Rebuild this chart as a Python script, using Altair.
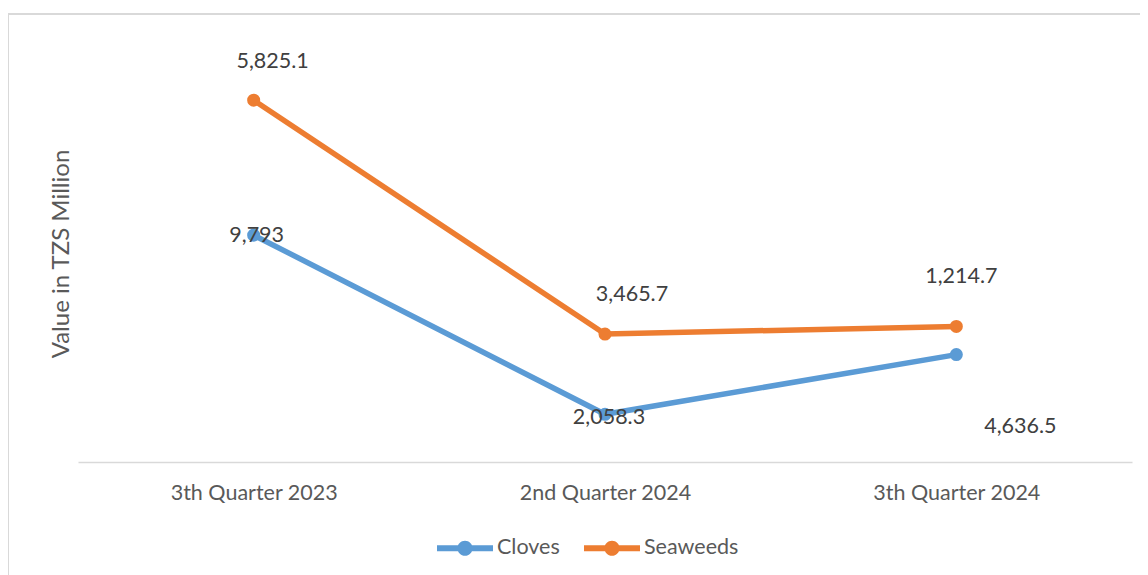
import altair as alt
import pandas as pd

quarters = ["3th Quarter 2023", "2nd Quarter 2024", "3th Quarter 2024"]
cloves = [9793.0, 2058.3, 4636.5]
seaweeds = [5825.1, 3465.7, 1214.7]
series_names = ["Cloves", "Seaweeds"]
series_colors = ["#5B9BD5", "#ED7D31"]

rows = []
for i, q in enumerate(quarters):
    rows.append({"quarter": q, "series": "Cloves", "value": cloves[i], "top": cloves[i]})
    rows.append({"quarter": q, "series": "Seaweeds", "value": seaweeds[i], "top": cloves[i] + seaweeds[i]})
df = pd.DataFrame(rows)

FONT = "Lato"
FS = 21.5
W, H = 1054, 417

x_enc = alt.X("quarter:N", sort=quarters,
              scale=alt.Scale(type="point", padding=0.5),
              axis=alt.Axis(title=None, ticks=False, grid=False, domainColor="#d9d9d9",
                            domainWidth=1.5, labelFont=FONT, labelFontSize=FS,
                            labelColor="#595959", labelPadding=20, labelAngle=0))
y_enc = alt.Y("top:Q", scale=alt.Scale(domain=[0, 18000]),
              axis=alt.Axis(title="Value in TZS Million", labels=False, ticks=False,
                            domain=False, grid=False, titleFont=FONT, titleFontSize=24,
                            titleFontWeight="normal", titleColor="#595959", titlePadding=5))
color_scale = alt.Scale(domain=series_names, range=series_colors)

base = alt.Chart(df)

line_layers = [
    base.transform_filter(alt.datum.series == s).mark_line(strokeWidth=5.5, color=c).encode(
        x=x_enc, y=y_enc)
    for s, c in zip(series_names, series_colors)
]

sym = ("M-1,-0.11H1V0.11H-1Z"
       "M0.27,0A0.27,0.27,0,1,1,-0.27,0A0.27,0.27,0,1,1,0.27,0Z")
points = base.mark_point(filled=True, size=170, opacity=1).encode(
    x=x_enc, y=y_enc,
    color=alt.Color("series:N", scale=color_scale,
                    legend=alt.Legend(title=None, orient="none", direction="horizontal",
                                      legendX=359, legendY=475,
                                      symbolType=sym, symbolSize=3136,
                                      symbolStrokeWidth=0, symbolOpacity=1,
                                      labelFont=FONT, labelFontSize=FS,
                                      labelColor="#595959", labelOffset=4,
                                      columnPadding=24)),
)

# label placement offsets (px) per series and quarter, as in the original
offsets = {
    "Seaweeds": [(19, -38), (27, -39), (5, -49)],
    "Cloves": [(3, 1), (4, 4), (64, 72)],
}
labels = []
for s, offs in offsets.items():
    for q, (dx, dy) in zip(quarters, offs):
        labels.append(
            base.transform_filter(
                (alt.datum.series == s) & (alt.datum.quarter == q)
            ).mark_text(font=FONT, fontSize=FS, color="#404040", dx=dx, dy=dy,
                        align="center", baseline="middle").encode(
                x=x_enc, y=y_enc, text=alt.Text("value:Q", format=",~f"))
        )

border_top = alt.Chart(df).mark_rule(color="#d9d9d9", strokeWidth=1.5).encode(
    x=alt.value(-70), x2=alt.value(1080), y=alt.value(-31))
border_left = alt.Chart(df).mark_rule(color="#d9d9d9", strokeWidth=1.5).encode(
    x=alt.value(-70), y=alt.value(-31), y2=alt.value(600))

chart = alt.layer(border_top, border_left, *line_layers, points, *labels).properties(
    width=W, height=H,
    padding={"left": 70, "top": 37, "right": 8, "bottom": 120},
    autosize=alt.AutoSizeParams(type="none"),
    background="white",
).configure_view(stroke=None)

chart.save("out.html", embed_options={"renderer": "svg", "actions": False})
